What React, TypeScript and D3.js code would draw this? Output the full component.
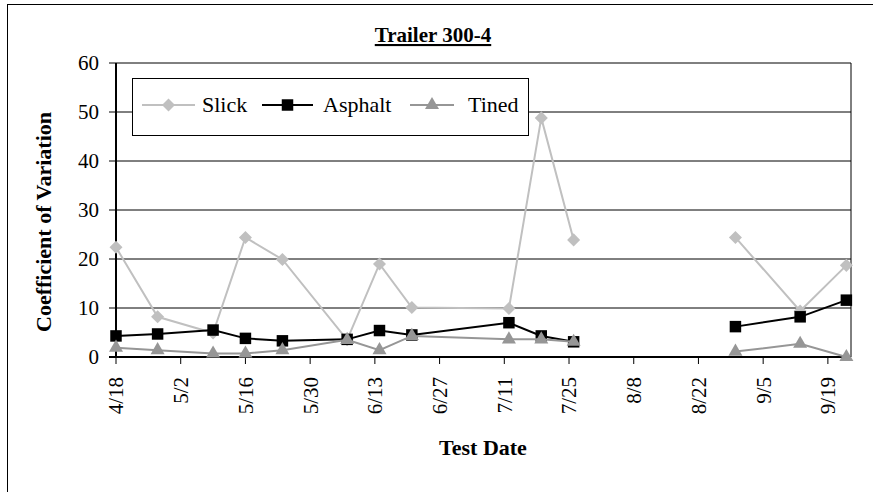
import React from "react";
import * as d3 from "d3";

const dates = ["4/18", "4/27", "5/9", "5/16", "5/24", "6/7", "6/14", "6/21", "7/12", "7/19", "7/26", "8/16", "8/30", "9/13", "9/23"];
const slick = [22.4, 8.2, 4.9, 24.4, 19.9, 3.5, 19.0, 10.1, 9.9, 48.8, 23.9, null, 24.4, 9.4, 18.7];
const asphalt = [4.3, 4.7, 5.5, 3.8, 3.3, 3.6, 5.4, 4.5, 7.0, 4.3, 3.1, null, 6.2, 8.2, 11.6];
const tined = [1.9, 1.4, 0.7, 0.7, 1.4, 3.5, 1.4, 4.3, 3.6, 3.6, 3.1, null, 1.1, 2.7, 0.0];
const xTickLabels = ["4/18", "5/2", "5/16", "5/30", "6/13", "6/27", "7/11", "7/25", "8/8", "8/22", "9/5", "9/19"];
const yTicks = [0, 10, 20, 30, 40, 50, 60];
const dateRange = ["4/18", "9/24"];

const W = 873;
const H = 492;
const margin = { top: 63, right: 22, bottom: 135, left: 116 };
const font = "Liberation Serif";

const parse = (s: string) => d3.utcParse("%m/%d/%Y")(`${s}/2002`) as Date;

type Series = { name: string; values: (number | null)[]; color: string; shape: string; size: number };
const series: Series[] = [
  { name: "Slick", values: slick, color: "#c0c0c0", shape: "diamond", size: 85 },
  { name: "Asphalt", values: asphalt, color: "#000000", shape: "square", size: 132 },
  { name: "Tined", values: tined, color: "#969696", shape: "triangle", size: 85 },
];

const Marker = ({ shape, size, color, x, y }: { shape: string; size: number; color: string; x: number; y: number }) => {
  if (shape === "diamond") {
    return <path d={d3.symbol(d3.symbolSquare, size)()!} transform={`translate(${x},${y}) rotate(45)`} fill={color} />;
  }
  if (shape === "square") {
    return <path d={d3.symbol(d3.symbolSquare, size)()!} transform={`translate(${x},${y})`} fill={color} />;
  }
  return <path d={d3.symbol(d3.symbolTriangle, size)()!} transform={`translate(${x},${y})`} fill={color} />;
};

export default function App() {
  const x = d3.scaleUtc(dateRange.map(parse), [margin.left, W - margin.right]);
  const y = d3.scaleLinear([0, 60], [H - margin.bottom, margin.top]);
  const x0 = margin.left;
  const x1 = W - margin.right;
  const y0 = H - margin.bottom;
  const y1 = margin.top;

  const legendItems = [
    { lx: 142, lw: 53, tx: 202 },
    { lx: 262, lw: 51, tx: 323 },
    { lx: 410, lw: 44, tx: 468 },
  ];

  return (
    <svg width={W} height={H} style={{ position: "absolute", left: 0, top: 0, background: "#fff" }}>
      <rect x={7.5} y={4.5} width={W + 20} height={H + 20} fill="#fff" stroke="#000" />

      <text x={433} y={42} fontSize={21} fontWeight="bold" fontFamily={font} textAnchor="middle" textDecoration="underline">
        Trailer 300-4
      </text>

      {/* grid + plot border */}
      {yTicks.slice(1).map((t) => (
        <line key={t} x1={x0} x2={x1} y1={y(t)} y2={y(t)} stroke="#000" strokeWidth={1} />
      ))}
      <line x1={x1} x2={x1} y1={y1} y2={y0} stroke="#000" strokeWidth={1} />

      {/* y axis */}
      <line x1={x0} x2={x0} y1={y1} y2={y0 + 1} stroke="#000" strokeWidth={2} />
      {yTicks.map((t) => (
        <g key={t}>
          <line x1={x0 - 7} x2={x0} y1={y(t)} y2={y(t)} stroke="#000" strokeWidth={1} />
          <text x={99} y={y(t)} dy="0.35em" textAnchor="end" fontSize={21} fontFamily={font}>
            {t}
          </text>
        </g>
      ))}

      {/* x axis */}
      <line x1={x0 - 7} x2={x1} y1={y0} y2={y0} stroke="#000" strokeWidth={2} />
      {xTickLabels.map((l) => (
        <g key={l}>
          <line x1={x(parse(l))} x2={x(parse(l))} y1={y0} y2={y0 + 7} stroke="#000" strokeWidth={1} />
          <text transform={`translate(${x(parse(l))},377) rotate(-90)`} dy="0.35em" textAnchor="end" fontSize={21} fontFamily={font}>
            {l}
          </text>
        </g>
      ))}

      <text transform="translate(43,222) rotate(-90)" dy="0.35em" textAnchor="middle" fontSize={22} fontWeight="bold" fontFamily={font}>
        Coefficient of Variation
      </text>
      <text x={483} y={455} textAnchor="middle" fontSize={22} fontWeight="bold" fontFamily={font}>
        Test Date
      </text>

      {/* series */}
      {series.map((s) => {
        const line = d3
          .line<number | null>()
          .defined((d) => d !== null)
          .x((d, i) => x(parse(dates[i])))
          .y((d) => y(d as number));
        return (
          <g key={s.name}>
            <path d={line(s.values)!} fill="none" stroke={s.color} strokeWidth={2} />
            {s.values.map((v, i) =>
              v === null ? null : (
                <Marker key={i} shape={s.shape} size={s.size} color={s.color} x={x(parse(dates[i]))} y={y(v)} />
              )
            )}
          </g>
        );
      })}

      {/* legend */}
      <rect x={132.5} y={78.5} width={396} height={57} fill="#fff" stroke="#000" strokeWidth={1} />
      {series.map((s, i) => {
        const it = legendItems[i];
        return (
          <g key={s.name}>
            <line x1={it.lx} x2={it.lx + it.lw} y1={105} y2={105} stroke={s.color} strokeWidth={2} />
            <Marker shape={s.shape} size={s.size} color={s.color} x={it.lx + it.lw / 2} y={105} />
            <text x={it.tx} y={112} fontSize={22} fontFamily={font}>
              {s.name}
            </text>
          </g>
        );
      })}
    </svg>
  );
}
